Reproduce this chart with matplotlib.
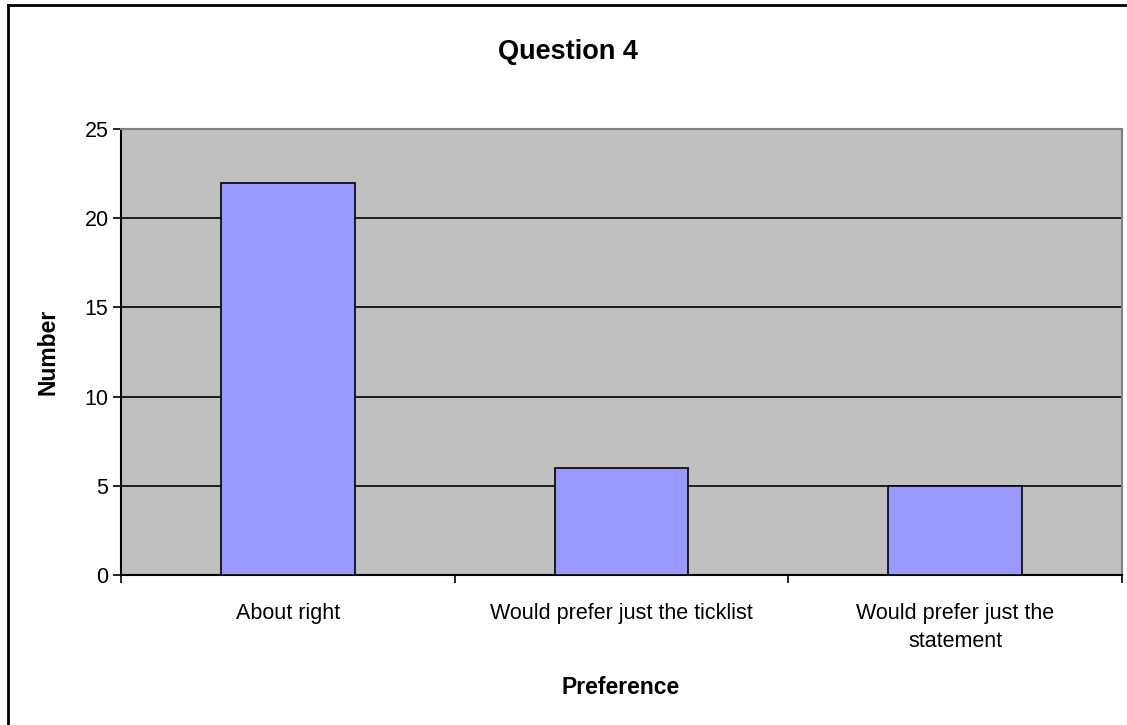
import matplotlib
matplotlib.use("Agg")
import matplotlib.pyplot as plt
from matplotlib.lines import Line2D

categories = ["About right", "Would prefer just the ticklist", "Would prefer just the\nstatement"]
values = [22, 6, 5]
yticks = [0, 5, 10, 15, 20, 25]

plt.rcParams['font.family'] = ['Liberation Sans', 'DejaVu Sans']

W, H = 1127, 725
fig = plt.figure(figsize=(W/100, H/100), dpi=100)
L, R, T, B = 121, 1122, 129, 575
ax = fig.add_axes([L/W, 1 - B/H, (R-L)/W, (B-T)/H])
ax.set_facecolor('#C0C0C0')
ax.set_axisbelow(True)

x = list(range(len(categories)))
ax.bar(x, values, width=0.4, color='#9999FF', edgecolor='black', linewidth=1.2, zorder=3)
ax.set_xlim(-0.5, len(categories) - 0.5)
ax.set_ylim(0, 25)
ax.set_yticks(yticks)
ax.tick_params(axis='y', direction='out', length=6, width=1.2, labelsize=15.5, pad=3)
ax.yaxis.grid(True, color='black', linewidth=1.2, zorder=0)
ax.set_xticks(x)
ax.set_xticklabels(categories, fontsize=15.5, linespacing=1.4)
ax.tick_params(axis='x', length=0, pad=20.5)
ax.set_xticks([i - 0.5 for i in range(len(categories) + 1)], minor=True)
ax.tick_params(axis='x', which='minor', direction='out', length=6, width=1.2)

for s in ['left', 'bottom']:
    ax.spines[s].set_color('black')
    ax.spines[s].set_linewidth(1.5)
for s in ['top', 'right']:
    ax.spines[s].set_color('#808080')
    ax.spines[s].set_linewidth(1.5)

fig.text(621/W, 1 - 688/H, 'Preference', ha='center', va='center', fontsize=16.5, fontweight='bold')
fig.text(48/W, 1 - 352/H, 'Number', ha='center', va='center', rotation=90, fontsize=16.5, fontweight='bold')
fig.text(568/W, 1 - 52/H, 'Question 4', ha='center', va='center', fontsize=19.5, fontweight='bold')

fig.add_artist(Line2D([8/W, 8/W], [0, 1 - 5/H], color='black', linewidth=2, transform=fig.transFigure))
fig.add_artist(Line2D([8/W, 1], [1 - 5/H, 1 - 5/H], color='black', linewidth=2, transform=fig.transFigure))

fig.savefig('out.png', dpi=100)
